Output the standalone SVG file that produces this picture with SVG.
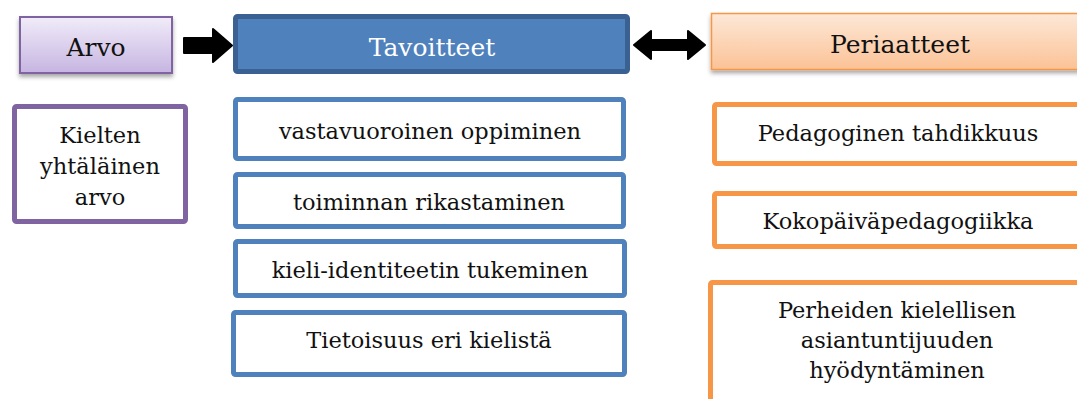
<svg xmlns="http://www.w3.org/2000/svg" width="1077" height="399" viewBox="0 0 1077 399">
<defs>
<linearGradient id="gPurple" x1="0" y1="0" x2="0" y2="1"><stop offset="0" stop-color="#f1ecf9"/><stop offset="1" stop-color="#c6b5e1"/></linearGradient>
<linearGradient id="gOrange" x1="0" y1="0" x2="0" y2="1"><stop offset="0" stop-color="#fde8d8"/><stop offset="1" stop-color="#fbc296"/></linearGradient>
<filter id="shadow" x="-10%" y="-20%" width="120%" height="160%"><feDropShadow dx="0" dy="3" stdDeviation="2" flood-color="#000" flood-opacity="0.35"/></filter>
</defs>
<style>
text{font-family:"DejaVu Serif","Liberation Serif",serif;fill:#111;text-anchor:middle}
.t{font-size:25px}
.i{font-size:22.5px}
.blue{fill:#fff;stroke:#4f81bd;stroke-width:5}
.orange{fill:#fff;stroke:#f79646;stroke-width:5}
.arrow{fill:#000;stroke:#000;stroke-width:2;stroke-linejoin:round}
</style>
<g id="arvo">
<rect x="20" y="17" width="152" height="56" fill="url(#gPurple)" stroke="#8064a2" stroke-width="2" filter="url(#shadow)"/>
<text class="t" x="96" y="56">Arvo</text>
</g>
<g id="tavoitteet">
<rect x="235.5" y="16.5" width="392" height="55" rx="2" fill="#4f81bd" stroke="#3b6193" stroke-width="5"/>
<text class="t" x="432" y="56" style="fill:#fff">Tavoitteet</text>
</g>
<g id="periaatteet">
<rect x="711.5" y="13.5" width="390" height="56" fill="url(#gOrange)" stroke="#f79646" stroke-width="1.5" filter="url(#shadow)"/>
<text class="t" x="900" y="53">Periaatteet</text>
</g>
<g id="kielten">
<rect x="14.5" y="106.5" width="171" height="115" rx="2" fill="#fff" stroke="#8064a2" stroke-width="5"/>
<text class="i" x="100" y="143">Kielten</text>
<text class="i" x="100" y="174">yhtäläinen</text>
<text class="i" x="100" y="205">arvo</text>
</g>
<g id="vastavuoroinen">
<rect class="blue" x="235.5" y="99.5" width="388" height="59" rx="2"/>
<text class="i" x="430" y="139">vastavuoroinen oppiminen</text>
</g>
<g id="toiminnan">
<rect class="blue" x="235.5" y="174.5" width="388" height="52" rx="2"/>
<text class="i" x="429" y="210">toiminnan rikastaminen</text>
</g>
<g id="kieli-identiteetin">
<rect class="blue" x="235.5" y="241.5" width="389" height="54" rx="2"/>
<text class="i" x="430" y="278">kieli-identiteetin tukeminen</text>
</g>
<g id="tietoisuus">
<rect class="blue" x="233.5" y="312.5" width="391" height="62" rx="2"/>
<text class="i" x="429" y="348">Tietoisuus eri kielistä</text>
</g>
<g id="pedagoginen">
<rect class="orange" x="714.5" y="104.5" width="380" height="59" rx="2"/>
<text class="i" x="898" y="141">Pedagoginen tahdikkuus</text>
</g>
<g id="kokopaiva">
<rect class="orange" x="714.5" y="193.5" width="380" height="53" rx="2"/>
<text class="i" x="898" y="229">Kokopäiväpedagogiikka</text>
</g>
<g id="perheiden">
<rect class="orange" x="710.5" y="282.5" width="384" height="140" rx="2"/>
<text class="i" x="897" y="318">Perheiden kielellisen</text>
<text class="i" x="897" y="348">asiantuntijuuden</text>
<text class="i" x="897" y="378">hyödyntäminen</text>
</g>
<g id="connectors">
<polygon class="arrow" points="184,38 213,38 213,29 232,45.5 213,62 213,53 184,53"/>
<polygon class="arrow" points="634,45 651,31 651,40 688,40 688,31 705,45 688,59 688,50 651,50 651,59"/>
</g>
</svg>
